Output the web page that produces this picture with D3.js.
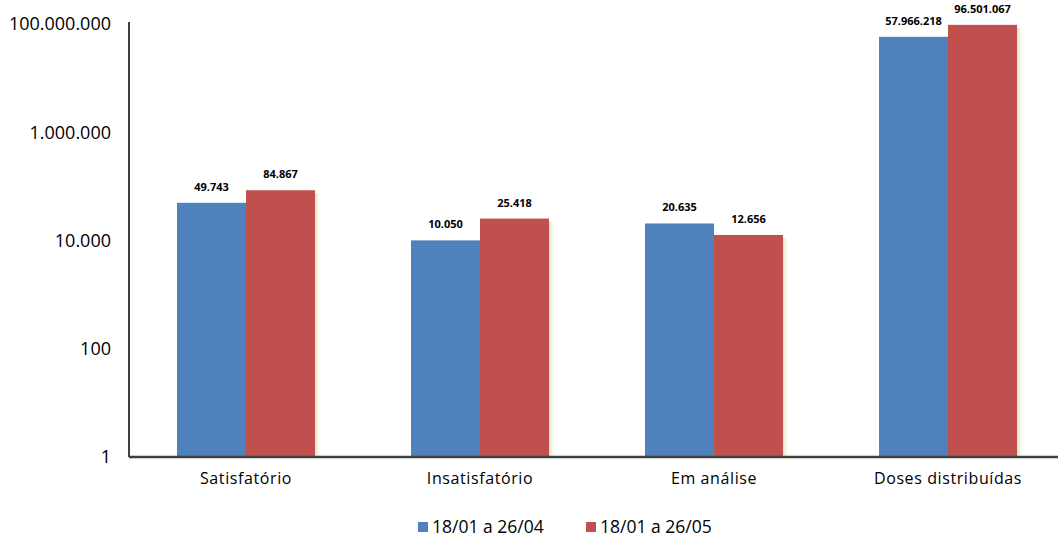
<!DOCTYPE html>
<html>
<head>
  <meta charset="utf-8">
  <script src="https://d3js.org/d3.v7.min.js"></script>
  <style>
    body { margin:0; background:#fff; }
    text { font-family: "Open Sans", Lato, sans-serif; fill:#000; }
    .y.axis text { font-size: 18px; }
    .x.axis text { font-size: 16px; letter-spacing: 0.6px; }
    .lbl { font-size: 11px; font-weight: bold; }
    .legend text { font-size: 17.5px; }
  </style>
</head>
<body>
  <script>
    var categories = ["Satisfatório", "Insatisfatório", "Em análise", "Doses distribuídas"];
    var seriesNames = ["18/01 a 26/04", "18/01 a 26/05"];
    var abril = [49743, 10050, 20635, 57966218];
    var maio = [84867, 25418, 12656, 96501067];
    var tickValues = [1, 100, 10000, 1000000, 100000000];
    var colors = ["#4f81bd", "#c0504d"];

    var margin = {top: 24, left: 129},
        width = 936,
        height = 433;

    var svg = d3.select("body").append("svg")
        .attr("width", 1058)
        .attr("height", 537);

    var defs = svg.append("defs");
    var grad = defs.append("linearGradient").attr("id", "shadow");
    grad.append("stop").attr("offset", "0%").attr("stop-color", "#d9e0b0").attr("stop-opacity", 0.9);
    grad.append("stop").attr("offset", "100%").attr("stop-color", "#f4f7e8").attr("stop-opacity", 0);

    var g = svg.append("g")
        .attr("transform", "translate(" + margin.left + "," + margin.top + ")");

    var x = d3.scaleBand()
        .domain(categories)
        .range([0, width])
        .paddingInner(0)
        .paddingOuter(0);
    var xs = d3.scaleBand()
        .domain([0, 1])
        .range([x.bandwidth() / 2 - 69, x.bandwidth() / 2 + 69]);
    var y = d3.scaleLog()
        .domain([1, 100000000])
        .range([height, 0]);

    var fmt = function(v) { return d3.format(",")(v).replace(/,/g, "."); };

    var data = categories.map(function(c, i) {
        return {cat: c, vals: [abril[i], maio[i]]};
    });

    var groups = g.selectAll(".grp")
        .data(data)
        .enter().append("g")
        .attr("class", "grp")
        .attr("transform", function(d) { return "translate(" + x(d.cat) + ",0)"; });

    // faint shadow on the right of each group
    groups.append("rect")
        .attr("x", xs(1) + xs.bandwidth())
        .attr("width", 6)
        .attr("y", function(d) { return y(d.vals[1]) + 3; })
        .attr("height", function(d) { return height - y(d.vals[1]) - 3; })
        .attr("fill", "url(#shadow)");

    groups.selectAll(".bar")
        .data(function(d) { return d.vals.map(function(v, k) { return {k: k, v: v}; }); })
        .enter().append("rect")
        .attr("class", "bar")
        .attr("x", function(d) { return xs(d.k); })
        .attr("width", xs.bandwidth())
        .attr("y", function(d) { return y(d.v); })
        .attr("height", function(d) { return height - y(d.v); })
        .attr("fill", function(d) { return colors[d.k]; });

    groups.selectAll(".lbl")
        .data(function(d) { return d.vals.map(function(v, k) { return {k: k, v: v}; }); })
        .enter().append("text")
        .attr("class", "lbl")
        .attr("x", function(d) { return xs(d.k) + xs.bandwidth() / 2; })
        .attr("y", function(d) { return y(d.v) - 12; })
        .attr("text-anchor", "middle")
        .text(function(d) { return fmt(d.v); });

    var yAxis = d3.axisLeft(y).tickValues(tickValues).tickSize(0).tickPadding(18).tickFormat(fmt);
    var ya = g.append("g").attr("class", "y axis").call(yAxis);
    ya.select(".domain").attr("stroke", "#000").attr("stroke-width", 1.5).attr("d", "M0,-2V" + height);

    var xAxis = d3.axisBottom(x).tickSize(0).tickPadding(16);
    var xa = g.append("g").attr("class", "x axis")
        .attr("transform", "translate(0," + height + ")")
        .call(xAxis);
    xa.select(".domain").attr("stroke", "#404040").attr("stroke-width", 2.5).attr("d", "M0,0H" + width);

    var legend = svg.append("g").attr("class", "legend")
        .attr("transform", "translate(418,527)");
    var li = legend.selectAll("g")
        .data(seriesNames)
        .enter().append("g")
        .attr("transform", function(d, i) { return "translate(" + (i * 168) + ",0)"; });
    li.append("rect")
        .attr("x", 0).attr("y", -5)
        .attr("width", 10).attr("height", 10)
        .attr("fill", function(d, i) { return colors[i]; });
    li.append("text")
        .attr("x", 14).attr("y", 6)
        .text(function(d) { return d; });
  </script>
</body>
</html>
